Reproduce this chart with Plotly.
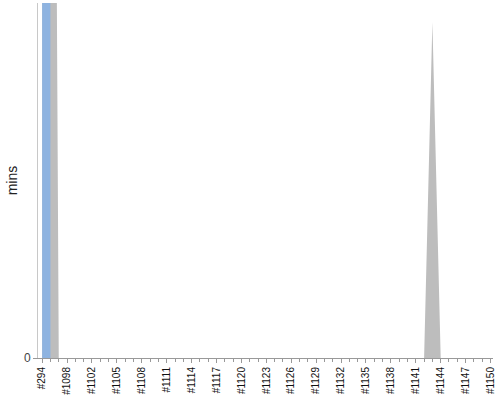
import plotly.graph_objects as go

# build numbers along the x axis
builds = [
    "#294", "#1096", "#1097", "#1098", "#1100", "#1101", "#1102", "#1103",
    "#1104", "#1105", "#1106", "#1107", "#1108", "#1109", "#1110", "#1111",
    "#1112", "#1113", "#1114", "#1115", "#1116", "#1117", "#1118", "#1119",
    "#1120", "#1121", "#1122", "#1123", "#1124", "#1125", "#1126", "#1127",
    "#1128", "#1129", "#1130", "#1131", "#1132", "#1133", "#1134", "#1135",
    "#1136", "#1137", "#1138", "#1139", "#1140", "#1141", "#1142", "#1143",
    "#1144", "#1145", "#1146", "#1147", "#1148", "#1149", "#1150",
]

# every third build gets a label
tick_labels = [
    "#294", "#1098", "#1102", "#1105", "#1108", "#1111", "#1114", "#1117",
    "#1120", "#1123", "#1126", "#1129", "#1132", "#1135", "#1138", "#1141",
    "#1144", "#1147", "#1150",
]

# durations in minutes (first build runs far off the top of the chart)
blue_mins = [
    300.0, 0, 0, 0, 0, 0, 0, 0, 0, 0, 0,
    0, 0, 0, 0, 0, 0, 0, 0, 0, 0, 0,
    0, 0, 0, 0, 0, 0, 0, 0, 0, 0, 0,
    0, 0, 0, 0, 0, 0, 0, 0, 0, 0, 0,
    0, 0, 0, 0, 0, 0, 0, 0, 0, 0, 0,
]
gray_mins = [
    300.0, 10.2, 0, 0, 0, 0, 0, 0, 0, 0, 0,
    0, 0, 0, 0, 0, 0, 0, 0, 0, 0, 0,
    0, 0, 0, 0, 0, 0, 0, 0, 0, 0, 0,
    0, 0, 0, 0, 0, 0, 0, 0, 0, 0, 0,
    0, 0, 0, 2.2, 0, 0, 0, 0, 0, 0, 0,
]

y_max = 2.325

idx = list(range(len(builds)))
tick_idx = [i for i, b in enumerate(builds) if b in tick_labels]

fig = go.Figure()

# gray series sits behind the blue one
fig.add_trace(go.Scatter(
    x=idx, y=gray_mins, mode='lines', fill='tozeroy',
    line=dict(width=0, color='#bdbdbd'), fillcolor='#bdbdbd',
    text=builds, hoverinfo='text+y'
))
fig.add_trace(go.Scatter(
    x=idx, y=blue_mins, mode='lines', fill='tozeroy',
    line=dict(width=0, color='#8eb3e0'), fillcolor='#8eb3e0',
    text=builds, hoverinfo='text+y'
))

fig.update_layout(
    width=500, height=400,
    margin=dict(l=38, r=7, t=3, b=42, autoexpand=False),
    paper_bgcolor='white', plot_bgcolor='white',
    showlegend=False,
    font=dict(family='Liberation Sans, Arial, sans-serif', color='#222'),
)

fig.update_xaxes(
    range=[-0.5, 54.3], automargin=False,
    tickvals=tick_idx, ticktext=tick_labels,
    tickangle=-90, tickfont=dict(size=10, color='#111'),
    showgrid=False, zeroline=False,
    showline=True, linecolor='#999', linewidth=1,
    ticks='outside', ticklen=4, tickcolor='#999',
    minor=dict(dtick=1, tick0=0, ticks='outside', ticklen=3, tickcolor='#999'),
)

fig.update_yaxes(
    range=[0, y_max], automargin=False,
    tickvals=[0], ticktext=['0'],
    tickfont=dict(size=12, color='#444'),
    showgrid=False, zeroline=False,
    showline=True, linecolor='#c8c8c8', linewidth=1,
    ticks='outside', ticklen=4, tickcolor='#999',
    title=dict(text='mins', font=dict(size=14, color='#222'), standoff=3),
)

# the page's default body margin would shift the chart by 8px
fig.write_html(
    "out.html",
    config={'displayModeBar': False},
    post_script="document.body.style.margin = '0';"
)
